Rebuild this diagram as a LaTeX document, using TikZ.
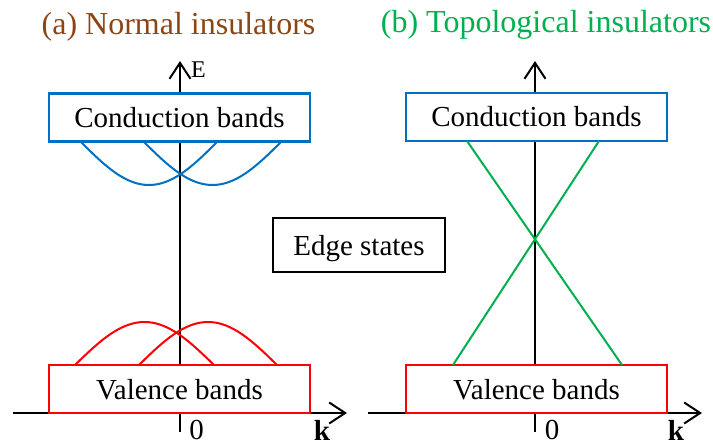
\documentclass[tikz,border=0pt]{standalone}
\usepackage{fontspec}
\setmainfont{Liberation Serif}
\usetikzlibrary{arrows.meta}
\definecolor{tbrown}{RGB}{140,70,20}
\definecolor{tgreen}{RGB}{0,176,80}
\definecolor{cblue}{RGB}{0,112,192}
\definecolor{vred}{RGB}{255,0,0}
\tikzset{
  bandbox/.style={draw, fill=white, line width=2.5pt, minimum width=261pt, minimum height=48pt,
    inner sep=0pt, text height=20pt, text depth=0pt, font=\fontsize{29}{34}\selectfont},
  edgebox/.style={draw=black, fill=white, line width=1.5pt, minimum width=172pt, minimum height=54pt,
    inner sep=0pt, text height=20pt, text depth=0pt, font=\fontsize{29}{34}\selectfont},
  axis/.style={line width=2pt, -{Straight Barb[length=16pt,width=21pt,line width=2pt]}},
  tick/.style={line width=2pt},
  band/.style={line width=2pt},
  title/.style={anchor=base, inner sep=0pt, font=\fontsize{32}{38}\selectfont},
  axlabel/.style={anchor=base, inner sep=0pt, font=\fontsize{29}{34}\selectfont},
}
\begin{document}
\begin{tikzpicture}[x=1pt,y=-1pt]
\useasboundingbox (0,0) rectangle (713,441);
% titles
\node[title, text=tbrown] (tA) at (178.5,35) {(a) Normal insulators};
\node[title, text=tgreen] (tB) at (546,33) {(b) Topological insulators};
% axes (a)
\coordinate (aBot) at (180,432);
\coordinate (aTop) at (180,61);
\coordinate (aL) at (13,413);
\coordinate (aR) at (347,413);
\draw[tick] (aBot) -- (180,413);
\draw[axis] (180,413) -- (aTop);
\draw[axis] (aL) -- (aR);
% axes (b)
\coordinate (bBot) at (535,432);
\coordinate (bTop) at (535,61);
\coordinate (bL) at (368,413);
\coordinate (bR) at (702,413);
\draw[tick] (bBot) -- (535,413);
\draw[axis] (535,413) -- (bTop);
\draw[axis] (bL) -- (bR);
% boxes
\node[bandbox, draw=cblue] (cbA) at (179.5,117.5) {Conduction bands};
\node[bandbox, draw=vred] (vbA) at (179.5,389) {Valence bands};
\node[bandbox, draw=cblue] (cbB) at (536.5,117) {Conduction bands};
\node[bandbox, draw=vred] (vbB) at (536.5,389) {Valence bands};
\node[edgebox] (edge) at (359,245) {Edge states};
% labels
\node[anchor=base west, inner sep=0pt, font=\fontsize{24}{28}\selectfont] (E) at (191,78) {E};
\node[axlabel] (zA) at (196.5,439) {0};
\node[axlabel, font=\fontsize{29}{34}\selectfont\bfseries] (kA) at (322,440) {k};
\node[axlabel] (zB) at (552,439) {0};
\node[axlabel, font=\fontsize{29}{34}\selectfont\bfseries] (kB) at (676,440) {k};
% conduction band curves (a)
\draw[band, cblue] plot[domain=80:218, samples=60, smooth] (\x, {141+44*sin((\x-80)/138*180)});
\draw[band, cblue] plot[domain=143:282, samples=60, smooth] (\x, {141+44*sin((\x-143)/139*180)});
% valence band curves (a)
\draw[band, vred] plot[domain=75:214, samples=60, smooth] (\x, {365-43*sin((\x-75)/139*180)});
\draw[band, vred] plot[domain=139:277, samples=60, smooth] (\x, {365-43*sin((\x-139)/138*180)});
% edge states (b)
\coordinate (g1a) at (467,141);
\coordinate (g1b) at (622,365);
\coordinate (g2a) at (599,141);
\coordinate (g2b) at (453,365);
\draw[band, tgreen] (g1a) -- (g1b);
\draw[band, tgreen] (g2a) -- (g2b);
\end{tikzpicture}
\end{document}
